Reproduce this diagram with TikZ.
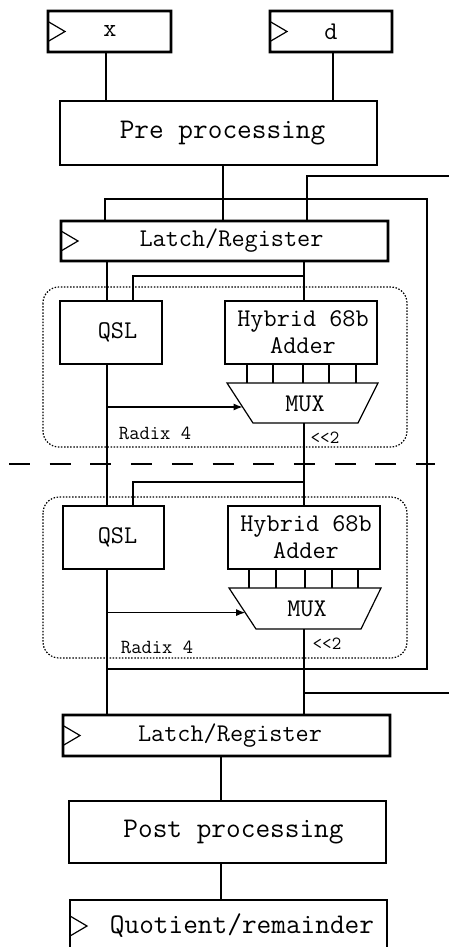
\documentclass[tikz,border=0pt]{standalone}
\usepackage{fontspec}
\usetikzlibrary{calc,arrows.meta}
\begin{document}
\begin{tikzpicture}[x=1pt,y=-1pt, line width=1.2pt,
  wire/.style={draw=black},
  box/.style={rectangle, inner sep=0pt, outer sep=0pt},
  boxframe/.style={draw=black},
  regframe/.style={fill=black, even odd rule},
  lbl/.style={font=\ttfamily\fontsize{25.5}{27}\selectfont, inner sep=0pt},
  biglbl/.style={font=\ttfamily\fontsize{28.5}{30}\selectfont, inner sep=0pt},
  smalllbl/.style={font=\ttfamily\fontsize{20}{22}\selectfont, inner sep=0pt},
  shiftlbl/.style={font=\ttfamily\fontsize{18.5}{20}\selectfont, inner sep=0pt},
  region/.style={draw=black, dash pattern=on 1.5pt off 1.6pt, rounded corners=16pt},
  clock/.style={draw=black}]
\useasboundingbox (0,0) rectangle (449,947);

% input registers
\node[box, minimum width=123pt, minimum height=41pt,
      label={[lbl, xshift=0.5pt]center:x}] (xin) at (109.5,31.5) {};
\node[box, minimum width=122pt, minimum height=41pt,
      label={[lbl]center:d}] (din) at (331,31.5) {};

% pre processing
\node[box, minimum width=317pt, minimum height=64pt,
      label={[biglbl, xshift=4pt]center:Pre processing}] (pre) at (218.5,133) {};

% first latch
\node[box, minimum width=327pt, minimum height=40pt,
      label={[lbl, xshift=7pt]center:Latch/Register}] (lat1) at (224.5,241) {};

% first radix-4 stage
\draw[region] (43,287) rectangle (407,447);
\node[box, minimum width=102pt, minimum height=63pt,
      label={[lbl, xshift=6.5pt]center:QSL}] (qsl1) at (111,332.5) {};
\node[box, minimum width=152pt, minimum height=63pt,
      label={[lbl, align=center, xshift=2pt]center:Hybrid 68b\\Adder}] (add1) at (301,332.5) {};
\coordinate (m1a) at (227,383);
\coordinate (m1b) at (378,383);
\coordinate (m1c) at (358,423);
\coordinate (m1d) at (253,423);
\draw[wire] (m1a) -- (m1b) -- (m1c) -- (m1d) -- cycle;
\node[lbl] (mux1) at (305,404) {MUX};
\node[smalllbl] (rad1) at (155,433) {Radix 4};
\node[shiftlbl] (sh1) at (325,438) {<<2};

% stage boundary
\coordinate (dl) at (9,464);
\coordinate (dr) at (435,464);
\draw[wire, dash pattern=on 21pt off 19.7pt] (dl) -- (dr);

% second radix-4 stage
\draw[region] (43,497) rectangle (407,658);
\node[box, minimum width=101pt, minimum height=63pt,
      label={[lbl, xshift=4pt]center:QSL}] (qsl2) at (113.5,537.5) {};
\node[box, minimum width=152pt, minimum height=63pt,
      label={[lbl, align=center, xshift=2pt]center:Hybrid 68b\\Adder}] (add2) at (304,537.5) {};
\coordinate (m2a) at (229,588);
\coordinate (m2b) at (381,588);
\coordinate (m2c) at (361,629);
\coordinate (m2d) at (256,629);
\draw[wire] (m2a) -- (m2b) -- (m2c) -- (m2d) -- cycle;
\node[lbl] (mux2) at (307,609) {MUX};
\node[smalllbl] (rad2) at (157,647) {Radix 4};
\node[shiftlbl] (sh2) at (327,644) {<<2};

% second latch, post processing, result
\node[box, minimum width=327pt, minimum height=41pt,
      label={[lbl, xshift=3.5pt]center:Latch/Register}] (lat2) at (226.5,735.5) {};
\node[box, minimum width=317pt, minimum height=62pt,
      label={[biglbl, xshift=6pt]center:Post processing}] (post) at (227.5,832) {};
\node[box, minimum width=317pt, minimum height=52pt,
      label={[biglbl, xshift=13.5pt]center:Quotient/remainder}] (quo) at (228.5,926) {};

% heavy register frames, filled as rings 2.6pt wide
\foreach \n in {xin,din,lat1,lat2}
  \fill[regframe] ($(\n.south west)+(-1.3,1.3)$) rectangle ($(\n.north east)+(1.3,-1.3)$)
                  ($(\n.south west)+(1.3,-1.3)$) rectangle ($(\n.north east)+(-1.3,1.3)$);
% light frames of the logic blocks
\foreach \n in {pre,qsl1,add1,qsl2,add2,post,quo}
  \draw[boxframe] (\n.south west) rectangle (\n.north east);

% clock marks
\foreach \n in {xin,din,lat1,lat2,quo}
  \draw[clock] ($(\n.west)+(0,-10)$) -- ++(17,10) -- ++(-17,10);

% wiring columns
\coordinate (colX) at (106,0);
\coordinate (colD) at (333,0);
\coordinate (colP) at (223,0);
\coordinate (colQ) at (107,0);
\coordinate (colA) at (304,0);
\coordinate (colS) at (133,0);
\coordinate (colF) at (307,0);
\coordinate (colM) at (221,0);

\draw[wire] (xin.south -| colX) -- (pre.north -| colX);
\draw[wire] (din.south -| colD) -- (pre.north -| colD);
\draw[wire] (pre.south -| colP) -- (lat1.north -| colP);

% feedback loop around both stages
\coordinate (fb1) at (105,199);
\coordinate (fb2) at (427,199);
\coordinate (fb3) at (427,669);
\coordinate (fb4) at (107,669);
\draw[wire] (lat1.north -| fb1) -- (fb1) -- (fb2) -- (fb3) -- (fb4);

% external in / out
\coordinate (inR) at (449,176);
\draw[wire] (inR) -| (lat1.north -| colF);
\coordinate (outR) at (449,693);
\draw[wire] (outR -| colA) -- (outR);

% stage 1 wiring
\draw[wire] (lat1.south -| colQ) -- (qsl1.north -| colQ);
\draw[wire] (lat1.south -| colA) -- (add1.north -| colA);
\coordinate (j1) at (304,276);
\draw[wire] (j1) -| (qsl1.north -| colS);
\foreach \dx in {22,48,78,104,131}
  \draw[wire] ($(add1.south west)+(\dx,0)$) -- ($(m1a -| add1.west)+(\dx,0)$);
\coordinate (t1) at ($(m1a)!0.6!(m1d)$);
\draw[wire, -{Latex[length=9pt,width=7pt]}] (t1 -| colQ) -- (t1);

% between stages
\draw[wire] (qsl1.south -| colQ) -- (qsl2.north -| colQ);
\draw[wire] (m1d -| colA) -- (add2.north -| colA);
\coordinate (j2) at (304,482);
\draw[wire] (j2) -| (qsl2.north -| colS);

% stage 2 wiring
\foreach \dx in {21,48,77,104,130}
  \draw[wire] ($(add2.south west)+(\dx,0)$) -- ($(m2a -| add2.west)+(\dx,0)$);
\coordinate (t2) at ($(m2a)!0.6!(m2d)$);
\draw[wire, -{Latex[length=9pt,width=7pt]}] (t2 -| colQ) -- (t2);
\draw[wire] (qsl2.south -| colQ) -- (lat2.north -| colQ);
\draw[wire] (m2d -| colA) -- (lat2.north -| colA);

% output path
\draw[wire] (lat2.south -| colM) -- (post.north -| colM);
\draw[wire] (post.south -| colM) -- (quo.north -| colM);
\end{tikzpicture}
\end{document}
